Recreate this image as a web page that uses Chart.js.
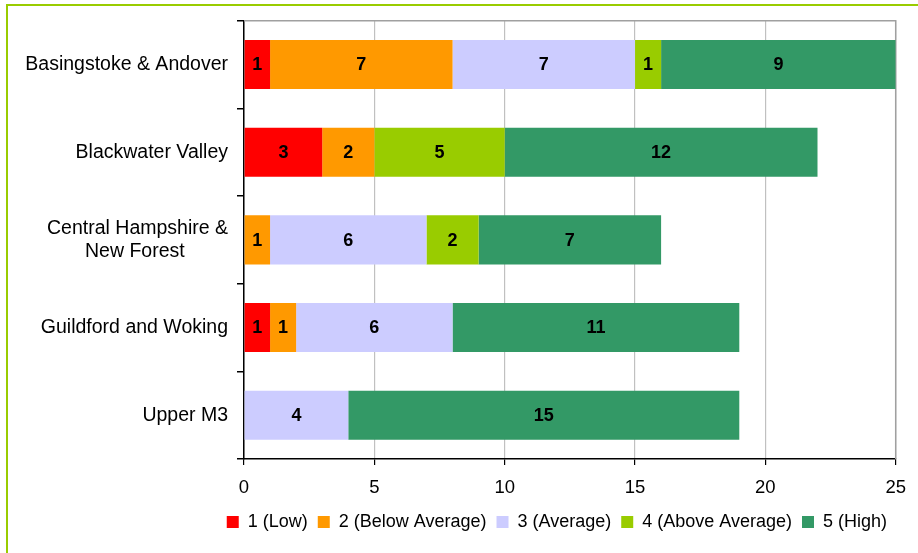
<!DOCTYPE html>
<html>
<head>
<meta charset="utf-8">
<script src="https://cdn.jsdelivr.net/npm/chart.js@4/dist/chart.umd.min.js"></script>
<style>
  body { margin: 0; background: #fff; }
  #wrap { position: relative; width: 918px; height: 553px; overflow: hidden; }
  #frame {
    position: absolute; left: 6px; top: 4px; width: 1000px; height: 1000px;
    border-left: 2px solid #99cc00; border-top: 2px solid #99cc00;
  }
  #chart { position: absolute; left: 0; top: 0; }
</style>
</head>
<body>
<div id="wrap">
  <div id="frame"></div>
  <canvas id="chart" width="918" height="553"></canvas>
</div>
<script>
const CATEGORIES = [
  ["Basingstoke & Andover"],
  ["Blackwater Valley"],
  ["Central Hampshire &", "New Forest"],
  ["Guildford and Woking"],
  ["Upper M3"]
];
const SERIES_NAMES = ["1 (Low)", "2 (Below Average)", "3 (Average)", "4 (Above Average)", "5 (High)"];
const SERIES_COLORS = ["#ff0000", "#ff9900", "#ccccff", "#99cc00", "#339966"];
const LOW = [1, 3, 0, 1, 0];
const BELOW_AVERAGE = [7, 2, 1, 1, 0];
const AVERAGE = [7, 0, 6, 6, 4];
const ABOVE_AVERAGE = [1, 5, 2, 0, 0];
const HIGH = [9, 12, 7, 11, 15];
const X_TICKS = [0, 5, 10, 15, 20, 25];

const FONT = "'Liberation Sans', Arial, sans-serif";
const Y_FONT_SIZE = 19.5;
const SERIES_VALUES = [LOW, BELOW_AVERAGE, AVERAGE, ABOVE_AVERAGE, HIGH];

// pad the shorter lines of a multi-line label so they look centred under right alignment
const measureCtx = document.createElement("canvas").getContext("2d");
function centerLines(lines) {
  if (lines.length < 2) return lines[0];
  measureCtx.font = Y_FONT_SIZE + "px " + FONT;
  const widths = lines.map(l => measureCtx.measureText(l).width);
  const space = measureCtx.measureText(" ").width;
  const max = Math.max(...widths);
  return lines.map((l, i) => l + " ".repeat(Math.round((max - widths[i]) / 2 / space)));
}

const segmentLabels = {
  id: "segmentLabels",
  afterDatasetsDraw(chart) {
    const ctx = chart.ctx;
    ctx.save();
    ctx.font = "bold 18px " + FONT;
    ctx.fillStyle = "#000";
    ctx.textAlign = "center";
    ctx.textBaseline = "middle";
    chart.data.datasets.forEach((ds, i) => {
      chart.getDatasetMeta(i).data.forEach((bar, j) => {
        const v = ds.data[j];
        if (!v) return;
        const p = bar.getCenterPoint();
        ctx.fillText(String(v), p.x, p.y + 1);
      });
    });
    ctx.restore();
  }
};

const plotFrame = {
  id: "plotFrame",
  beforeDatasetsDraw(chart) {
    const a = chart.chartArea;
    const ctx = chart.ctx;
    ctx.save();
    ctx.strokeStyle = "#a0a0a0";
    ctx.lineWidth = 1.5;
    ctx.beginPath();
    ctx.moveTo(a.left, a.top);
    ctx.lineTo(a.right, a.top);
    ctx.lineTo(a.right, a.bottom);
    ctx.stroke();
    ctx.restore();
  }
};

new Chart(document.getElementById("chart"), {
  type: "bar",
  data: {
    labels: CATEGORIES.map(centerLines),
    datasets: SERIES_NAMES.map((name, i) => ({
      label: name,
      data: SERIES_VALUES[i],
      backgroundColor: SERIES_COLORS[i],
      borderWidth: 0,
      barPercentage: 0.56,
      categoryPercentage: 1
    }))
  },
  options: {
    indexAxis: "y",
    responsive: false,
    animation: false,
    layout: { padding: { top: 20, right: 21, bottom: 12, left: 0 } },
    plugins: {
      legend: {
        position: "bottom",
        align: "end",
        labels: {
          font: { family: FONT, size: 18 },
          color: "#000",
          boxWidth: 12,
          boxHeight: 12,
          padding: 10
        }
      },
      tooltip: { enabled: false }
    },
    scales: {
      x: {
        stacked: true,
        min: 0,
        max: 25,
        afterBuildTicks(scale) { scale.ticks = X_TICKS.map(v => ({ value: v })); },
        afterFit(scale) { scale.height = 44; },
        grid: { color: "#c0c0c0", tickColor: "#000", tickLength: 6, lineWidth: 1.2 },
        border: { color: "#000", width: 1.5 },
        ticks: { font: { family: FONT, size: 18.5 }, color: "#000", padding: 12 }
      },
      y: {
        stacked: true,
        afterFit(scale) { scale.width = 244; },
        grid: { drawOnChartArea: false, offset: true, tickColor: "#000", tickLength: 7, lineWidth: 1.5 },
        border: { color: "#000", width: 1.5 },
        ticks: { font: { family: FONT, size: Y_FONT_SIZE }, color: "#000", padding: 9 }
      }
    }
  },
  plugins: [plotFrame, segmentLabels]
});
</script>
</body>
</html>
